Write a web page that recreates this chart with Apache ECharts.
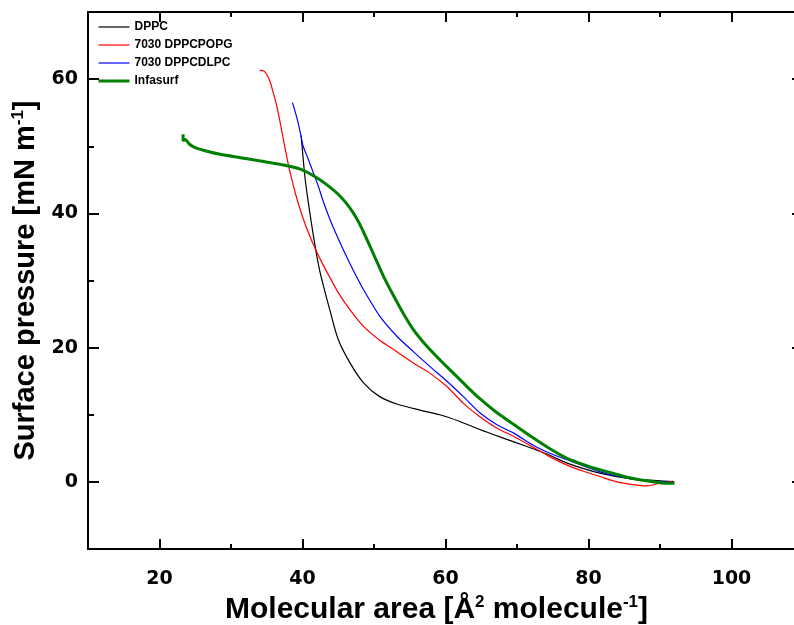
<!DOCTYPE html>
<html>
<head>
<meta charset="utf-8">
<script src="https://cdn.jsdelivr.net/npm/echarts@6/dist/echarts.min.js"></script>
<style>html,body{margin:0;padding:0;background:#fff;overflow:hidden}#c{width:812px;height:625px}</style>
</head>
<body>
<div id="c"></div>
<script>
const seriesNames = ['DPPC', '7030 DPPCPOPG', '7030 DPPCDLPC', 'Infasurf'];
const xMajorTicks = [20, 40, 60, 80, 100];
const xMinorTicks = [30, 50, 70, 90];
const yMajorTicks = [0, 20, 40, 60];
const yMinorTicks = [10, 30, 50];

const dppcX = [39.8,39.9,40.1,40.3,40.6,41.0,41.4,41.8,42.3,42.9,43.8,45.0,46.6,48.5,50.8,53.2,56.4,59.2,62.0,64.8,67.6,71.3,74.5,77.0,81.6,86.2,89.6,92.0];
const dppcY = [51.6,50.5,48.1,45.8,43.2,40.3,37.5,34.9,32.0,29.3,25.7,21.2,17.8,14.8,12.7,11.6,10.7,10.0,9.0,7.8,6.7,5.3,4.0,2.8,1.3,0.4,0.2,0.0];

const popgX = [34.0,34.6,35.1,35.5,35.9,36.4,36.9,37.4,37.9,38.4,39.0,39.7,40.4,41.1,41.8,42.7,43.8,45.0,46.6,48.5,50.8,53.2,55.5,57.8,60.2,62.5,64.8,67.2,69.5,72.2,74.5,77.0,79.5,81.6,84.0,86.2,88.2,90.0,91.8];
const popgY = [61.3,61.2,60.5,59.5,58.0,56.0,53.4,50.6,47.9,45.5,43.0,40.5,38.3,36.4,34.7,32.7,30.5,28.2,25.7,23.2,21.1,19.4,17.7,16.2,14.2,11.7,9.7,8.0,6.8,5.2,3.8,2.5,1.5,0.8,0.0,-0.4,-0.6,-0.2,0.1];

const dlpcX = [38.6,39.2,39.7,40.1,40.8,41.5,42.2,42.8,43.8,44.8,46.0,47.2,48.5,50.8,53.2,55.5,57.8,60.2,62.5,64.8,67.2,69.5,72.2,74.5,77.0,81.6,86.2,89.0,91.0,92.0];
const dlpcY = [56.5,54.3,52.0,50.0,48.1,46.1,44.1,42.1,39.2,36.7,33.9,31.3,28.7,24.7,21.7,19.4,17.2,15.0,12.7,10.3,8.5,7.3,5.5,4.3,3.3,1.5,0.4,0.1,0.0,-0.2];

const infaX = [23.3,23.3,23.6,24.2,25.0,26.5,28.5,31.3,34.1,36.9,39.7,42.0,44.3,45.4,46.5,47.6,48.5,49.9,51.3,52.7,54.1,55.5,57.4,59.2,61.1,63.0,64.8,67.2,69.5,72.2,74.5,77.0,79.5,81.6,84.0,86.2,88.6,91.0,92.0];
const infaY = [51.8,50.8,51.0,50.3,49.8,49.3,48.8,48.3,47.8,47.3,46.6,45.3,43.5,42.4,41.0,39.2,37.3,34.0,30.7,27.8,25.1,22.7,20.2,18.2,16.2,14.2,12.4,10.3,8.6,6.6,5.0,3.5,2.5,1.8,1.1,0.5,0.1,-0.2,-0.2];

const zip = (xs, ys) => xs.map((x, i) => [x, ys[i]]);

const X_MIN = 10, X_MAX = 110, Y_MIN = -10, Y_MAX = 70;
const labelFont = { fontFamily: 'DejaVu Sans', fontWeight: 'bold', fontSize: 19, color: '#000' };

function xAx(pos, ticks, len, labels) {
  return {
    type: 'value', position: pos, min: X_MIN, max: X_MAX, interval: 10,
    splitLine: { show: false },
    axisLine: { show: true, onZero: false, lineStyle: { color: '#000', width: 2 } },
    axisTick: { show: true, inside: true, length: len, customValues: ticks, lineStyle: { color: '#000', width: 2 } },
    axisLabel: labels ? Object.assign({ show: true, margin: 21, customValues: xMajorTicks }, labelFont) : { show: false }
  };
}
function yAx(pos, ticks, len, labels) {
  return {
    type: 'value', position: pos, min: Y_MIN, max: Y_MAX, interval: 10,
    splitLine: { show: false },
    axisLine: { show: true, onZero: false, lineStyle: { color: '#000', width: 2 } },
    axisTick: { show: true, inside: true, length: len, customValues: ticks, lineStyle: { color: '#000', width: 2 } },
    axisLabel: labels ? Object.assign({ show: true, margin: 10, customValues: yMajorTicks }, labelFont) : { show: false }
  };
}

const supStyle = { fontFamily: 'Liberation Sans', fontWeight: 'bold', fontSize: 17, color: '#000', padding: [0, 0, 15, 0] };

const xAxes = [
  xAx('bottom', xMajorTicks, 10, true),
  xAx('bottom', xMinorTicks, 5, false),
  xAx('top', xMajorTicks, 10, false),
  xAx('top', xMinorTicks, 5, false)
];
Object.assign(xAxes[0], {
  name: 'Molecular area [Å{sup|2} molecule{sup|-1}]',
  nameLocation: 'middle', nameGap: 43,
  nameTextStyle: {
    fontFamily: 'Liberation Sans', fontWeight: 'bold', fontSize: 30, color: '#000',
    padding: [0, 18, 0, 0],
    rich: { sup: supStyle }
  }
});
const yAxes = [
  yAx('left', yMajorTicks, 11, true),
  yAx('left', yMinorTicks, 6, false),
  yAx('right', yMajorTicks, 11, false),
  yAx('right', yMinorTicks, 6, false)
];
Object.assign(yAxes[0], {
  name: 'Surface pressure [mN m{sup|-1}]',
  nameLocation: 'middle', nameGap: 40,
  nameTextStyle: {
    fontFamily: 'Liberation Sans', fontWeight: 'bold', fontSize: 29, color: '#000',
    rich: { sup: supStyle }
  }
});

const colors = ['#000000', '#ff0000', '#0000ff', '#008000'];
const widths = [1.2, 1.2, 1.2, 3];
const datas = [zip(dppcX, dppcY), zip(popgX, popgY), zip(dlpcX, dlpcY), zip(infaX, infaY)];

const chart = echarts.init(document.getElementById('c'), null, { renderer: 'canvas' });
chart.setOption({
  animation: false,
  backgroundColor: '#fff',
  grid: { left: 88, top: 12, width: 715, height: 537, containLabel: false, outerBoundsMode: 'none' },
  xAxis: xAxes,
  yAxis: yAxes,
  legend: {
    orient: 'vertical', left: 97, top: 21, padding: 0,
    itemWidth: 31, itemHeight: 12, itemGap: 6,
    itemStyle: { color: 'rgba(0,0,0,0)', borderWidth: 0, opacity: 0 },
    textStyle: { fontFamily: 'Liberation Sans', fontWeight: 'bold', fontSize: 12, color: '#000' },
    data: seriesNames.map((n, i) => ({ name: n, lineStyle: { color: colors[i], width: widths[i] } }))
  },
  series: seriesNames.map((n, i) => ({
    name: n, type: 'line', xAxisIndex: 0, yAxisIndex: 0,
    data: datas[i], symbol: 'none', smooth: 0.25,
    lineStyle: { color: colors[i], width: widths[i] },
    itemStyle: { color: colors[i] }
  }))
});
</script>
</body>
</html>
